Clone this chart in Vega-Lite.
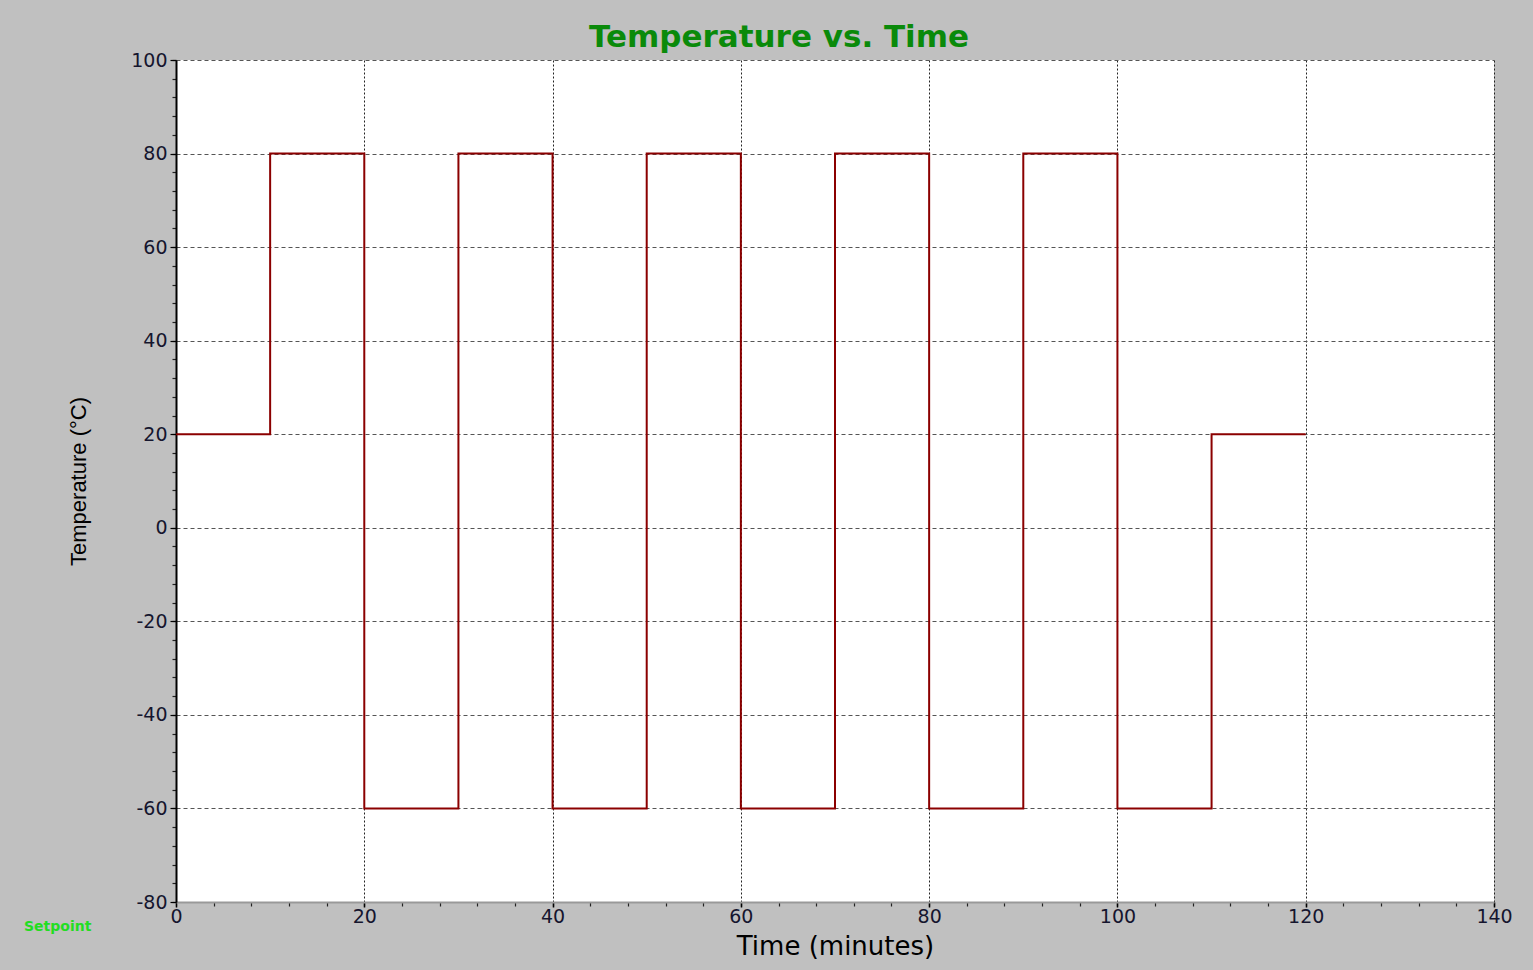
{
  "$schema": "https://vega.github.io/schema/vega-lite/v6.json",
  "width": 1318,
  "height": 842,
  "autosize": {"type": "none"},
  "padding": {"left": 176, "top": 60, "right": 39, "bottom": 68},
  "background": "#C0C0C0",
  "title": {
    "text": "Temperature vs. Time",
    "font": "DejaVu Sans",
    "fontSize": 31,
    "fontWeight": "bold",
    "color": "#0A8A0A",
    "anchor": "middle",
    "frame": "group",
    "dx": -56,
    "offset": -3
  },
  "data": {
    "values": [
      {"time": 0, "temp": 20, "series": "Setpoint"},
      {"time": 10, "temp": 80, "series": "Setpoint"},
      {"time": 20, "temp": -60, "series": "Setpoint"},
      {"time": 30, "temp": 80, "series": "Setpoint"},
      {"time": 40, "temp": -60, "series": "Setpoint"},
      {"time": 50, "temp": 80, "series": "Setpoint"},
      {"time": 60, "temp": -60, "series": "Setpoint"},
      {"time": 70, "temp": 80, "series": "Setpoint"},
      {"time": 80, "temp": -60, "series": "Setpoint"},
      {"time": 90, "temp": 80, "series": "Setpoint"},
      {"time": 100, "temp": -60, "series": "Setpoint"},
      {"time": 110, "temp": 20, "series": "Setpoint"},
      {"time": 120, "temp": 20, "series": "Setpoint"}
    ]
  },
  "config": {
    "view": {"fill": "white", "stroke": null},
    "axis": {
      "labelFont": "DejaVu Sans",
      "labelFontSize": 19,
      "labelColor": "#15152e",
      "labelFlush": false,
      "titleColor": "black",
      "tickColor": "black"
    }
  },
  "resolve": {"axis": {"x": "independent", "y": "independent"}},
  "layer": [
    {
      "mark": {"type": "line", "interpolate": "step-after", "strokeWidth": 0, "opacity": 0},
      "encoding": {
        "x": {
          "field": "time", "type": "quantitative",
          "scale": {"domain": [0, 140], "nice": false, "zero": false},
          "axis": {
            "orient": "bottom",
            "values": [0,4,8,12,16,20,24,28,32,36,40,44,48,52,56,60,64,68,72,76,80,84,88,92,96,100,104,108,112,116,120,124,128,132,136,140],
            "labels": false, "grid": false, "domain": false, "title": null,
            "tickSize": 4, "tickWidth": 1.2, "tickColor": "#222"
          }
        },
        "y": {
          "field": "temp", "type": "quantitative",
          "scale": {"domain": [-80, 100], "nice": false, "zero": false},
          "axis": {
            "orient": "left",
            "values": [-80,-76,-72,-68,-64,-60,-56,-52,-48,-44,-40,-36,-32,-28,-24,-20,-16,-12,-8,-4,0,4,8,12,16,20,24,28,32,36,40,44,48,52,56,60,64,68,72,76,80,84,88,92,96,100],
            "labels": false, "grid": false, "domain": false, "title": null,
            "tickSize": 4, "tickWidth": 1.2, "tickColor": "#222"
          }
        }
      }
    },
    {
      "mark": {"type": "line", "interpolate": "step-after", "strokeWidth": 2},
      "encoding": {
        "x": {
          "field": "time", "type": "quantitative",
          "scale": {"domain": [0, 140], "nice": false, "zero": false},
          "axis": {
            "orient": "bottom",
            "values": [0, 20, 40, 60, 80, 100, 120, 140],
            "grid": true,
            "gridColor": "#222",
            "gridDash": [2, 2],
            "gridWidth": 1,
            "domainColor": "#999",
            "domainWidth": 2,
            "tickSize": 5,
            "tickWidth": 1.5,
            "labelPadding": 0,
            "title": "Time (minutes)",
            "titleFont": "DejaVu Sans",
            "titleFontSize": 26,
            "titleFontWeight": "normal",
            "titlePadding": 7
          }
        },
        "y": {
          "field": "temp", "type": "quantitative",
          "scale": {"domain": [-80, 100], "nice": false, "zero": false},
          "axis": {
            "orient": "left",
            "values": [-80, -60, -40, -20, 0, 20, 40, 60, 80, 100],
            "labelExpr": "toString(datum.value)",
            "grid": true,
            "gridColor": "#555",
            "gridDash": [4, 3],
            "gridWidth": 1,
            "domainColor": "black",
            "domainWidth": 2,
            "tickSize": 6,
            "tickWidth": 1.2,
            "labelPadding": 3,
            "title": "Temperature (°C)",
            "titleFont": "Liberation Sans",
            "titleFontSize": 22,
            "titleFontWeight": "normal",
            "titlePadding": 40
          }
        },
        "color": {
          "field": "series", "type": "nominal",
          "scale": {"range": ["#8B0000"]},
          "legend": {
            "title": null,
            "orient": "none",
            "legendX": -166,
            "legendY": 860,
            "symbolOpacity": 0,
            "symbolSize": 0,
            "symbolStrokeWidth": 0,
            "labelOffset": 0,
            "labelFont": "DejaVu Sans",
            "labelFontSize": 14,
            "labelFontWeight": "bold",
            "labelColor": "#22DD22"
          }
        }
      }
    }
  ]
}
